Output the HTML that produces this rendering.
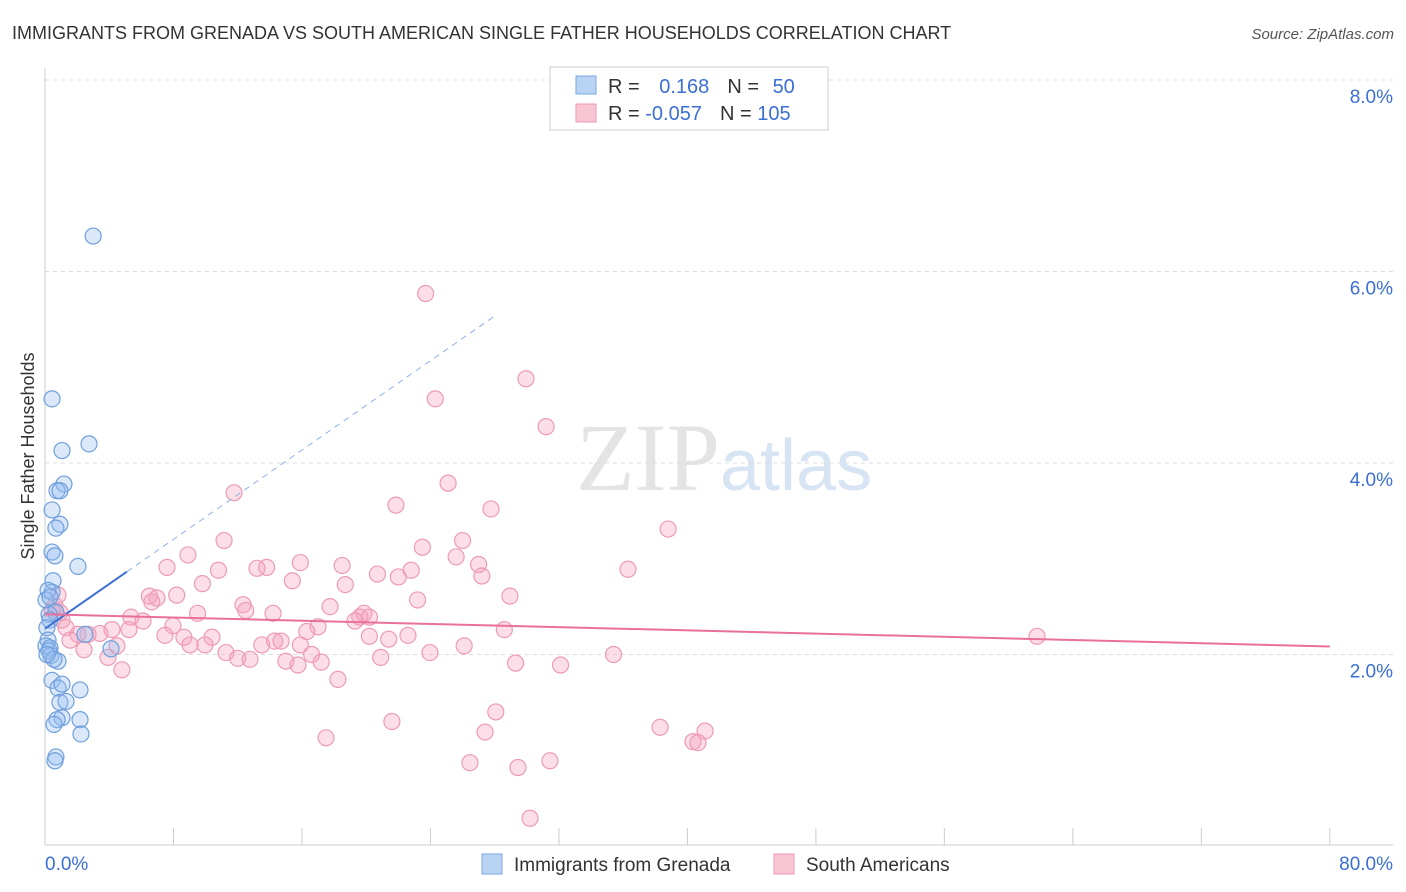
<!DOCTYPE html>
<html><head><meta charset="utf-8"><style>
body{margin:0;background:#fff;font-family:"Liberation Sans",sans-serif}
svg{display:block}
</style></head><body>
<svg id="c" width="1406" height="892">
<text x="12" y="39" font-size="18" fill="#333">IMMIGRANTS FROM GRENADA VS SOUTH AMERICAN SINGLE FATHER HOUSEHOLDS CORRELATION CHART</text>
<text x="1394" y="39" font-size="15" fill="#555" font-style="italic" text-anchor="end">Source: ZipAtlas.com</text>
<text x="720" y="490" font-size="96" fill="#e4e4e4" text-anchor="end" font-family="Liberation Serif">ZIP</text>
<text x="720" y="490" font-size="72" fill="#d6e4f4">atlas</text>
<text transform="translate(34,456) rotate(-90)" font-size="18" fill="#333" text-anchor="middle">Single Father Households</text>
<g id="grid"></g><g id="pts"></g><g id="lines"></g>
<g>
<rect x="550" y="67" width="278" height="63" fill="#fff" stroke="#ccc"/>
<rect x="576" y="76" width="20" height="18" fill="#b9d3f3" stroke="#7aa6dd"/>
<rect x="576" y="104" width="20" height="18" fill="#f8c5d5" stroke="#ee99b4"/>
<text x="608" y="93" font-size="20" fill="#333">R = <tspan fill="#3b6fd4" dx="14">0.168</tspan><tspan fill="#333" dx="18">N = </tspan><tspan fill="#3b6fd4" dx="8">50</tspan></text>
<text x="608" y="120" font-size="20" fill="#333">R = <tspan fill="#3b6fd4">-0.057</tspan><tspan fill="#333" dx="18">N = </tspan><tspan fill="#3b6fd4">105</tspan></text>
</g>
<g>
<rect x="482" y="854" width="20" height="20" fill="#b9d3f3" stroke="#7aa6dd"/>
<text x="514" y="871" font-size="19" fill="#333">Immigrants from Grenada</text>
<rect x="774" y="854" width="20" height="20" fill="#f8c5d5" stroke="#ee99b4"/>
<text x="806" y="871" font-size="19" fill="#333">South Americans</text>
</g>
</svg>
<script>
const yTicks=[2,4,6,8];
const xTickLabels=["0.0%","80.0%"];
const blueX=[3.0,0.44,2.74,1.06,1.18,0.75,0.93,0.44,0.93,0.68,0.44,0.62,2.05,0.5,0.44,0.19,0.68,0.25,0.31,0.12,0.19,0.06,0.31,0.37,4.11,0.25,0.81,0.56,0.44,0.81,1.06,2.18,0.93,1.31,2.18,1.06,0.75,0.56,2.24,0.68,0.62,0.12,0.06,0.31,2.49];
const blueY=[6.37,4.67,4.2,4.13,3.78,3.71,3.71,3.51,3.36,3.32,3.07,3.03,2.92,2.77,2.65,2.67,2.44,2.42,2.36,2.28,2.15,2.09,2.07,1.99,2.06,2.04,1.93,1.95,1.73,1.65,1.69,1.63,1.5,1.51,1.32,1.34,1.32,1.27,1.17,0.93,0.89,2.0,2.57,2.6,2.21];
const pinkX=[23.7,29.95,24.3,31.2,11.77,25.1,21.85,27.77,38.8,11.15,26.0,23.5,8.9,25.6,15.9,18.5,13.8,13.2,7.6,36.3,27.0,22.8,20.7,22.0,27.2,15.4,10.8,18.7,9.8,8.2,6.5,6.97,6.65,28.95,23.2,12.33,17.75,12.5,19.86,5.35,19.6,9.5,14.2,6.1,20.2,19.3,17.0,7.97,4.17,3.42,16.3,28.6,5.23,22.6,20.2,10.4,8.65,2.68,2.05,7.47,21.4,14.3,14.7,13.5,9.03,9.96,4.48,15.9,26.1,23.97,2.43,11.27,16.6,3.92,20.9,35.4,12.0,12.77,15.0,17.2,29.3,32.1,15.75,4.79,18.24,61.77,21.6,28.07,38.3,41.1,17.5,27.4,40.35,40.66,26.46,29.45,31.44,30.2,0.93,1.06,0.62,0.81,1.31,1.56,0.44];
const pinkY=[5.77,4.88,4.67,4.38,3.69,3.79,3.56,3.52,3.31,3.19,3.19,3.12,3.04,3.02,2.96,2.93,2.91,2.9,2.91,2.89,2.94,2.88,2.84,2.81,2.82,2.77,2.88,2.73,2.74,2.62,2.61,2.59,2.55,2.61,2.57,2.52,2.5,2.46,2.43,2.39,2.39,2.43,2.43,2.35,2.39,2.35,2.29,2.3,2.26,2.22,2.24,2.26,2.26,2.2,2.19,2.18,2.18,2.21,2.21,2.2,2.16,2.14,2.14,2.1,2.1,2.1,2.09,2.1,2.09,2.02,2.05,2.02,2.0,1.97,1.97,2.0,1.96,1.95,1.93,1.92,1.91,1.89,1.89,1.84,1.74,2.19,1.3,1.4,1.24,1.2,1.13,1.19,1.09,1.08,0.87,0.82,0.89,0.29,2.44,2.36,2.51,2.62,2.28,2.15,2.46];
const blueTrend=[0.168,2.27,0.1166];  // r, intercept, slope per %x
const pinkTrend=[-0.057,2.42,-0.0042];
const ns="http://www.w3.org/2000/svg";
const xs=v=>45+v*16.06, ys=v=>846-v*95.75;
function mk(tag,at,parent){const e=document.createElementNS(ns,tag);for(const k in at)e.setAttribute(k,at[k]);document.getElementById(parent).appendChild(e);return e;}
yTicks.forEach(t=>{
 const l=mk('line',{x1:45,x2:1393,y1:ys(t),y2:ys(t),stroke:'#ddd','stroke-dasharray':'4,4'},'grid');
 
 
 const tx=mk('text',{x:1393,y:ys(t)+23,'font-size':19,fill:'#3b6fd4','text-anchor':'end'},'grid');tx.textContent=t.toFixed(1)+'%';
 
 
});
mk('line',{x1:45,x2:45,y1:68,y2:845,stroke:'#ccc'},'grid');
mk('line',{x1:45,x2:1393,y1:845,y2:845,stroke:'#ccc'},'grid');
for(let i=0;i<=10;i++){const x=xs(i*8);mk('line',{x1:x,x2:x,y1:828,y2:845,stroke:'#ccc'},'grid');}
const xl=mk('text',{x:45,y:870,'font-size':19,fill:'#3b6fd4'},'grid');xl.textContent=xTickLabels[0];


const xr=mk('text',{x:1393,y:870,'font-size':19,fill:'#3b6fd4','text-anchor':'end'},'grid');xr.textContent=xTickLabels[1];


pinkX.forEach((x,i)=>{const c=mk('circle',{cx:xs(x),cy:ys(pinkY[i]),r:8,fill:'rgba(244,160,188,0.35)',stroke:'#ee9ab5','stroke-width':1.2},'pts');
 
 });
blueX.forEach((x,i)=>{const c=mk('circle',{cx:xs(x),cy:ys(blueY[i]),r:8,fill:'rgba(150,190,240,0.35)',stroke:'#6f9fdc','stroke-width':1.2},'pts');
 
 });
const bf=v=>blueTrend[1]+blueTrend[2]*v, pf=v=>pinkTrend[1]+pinkTrend[2]*v;
const bl=mk('line',{x1:xs(0),y1:ys(bf(0)),x2:xs(5.1),y2:ys(bf(5.1)),stroke:'#3b6fd4','stroke-width':2},'lines');


const bd=mk('line',{x1:xs(5.1),y1:ys(bf(5.1)),x2:xs(27.9),y2:ys(bf(27.9)),stroke:'#8fb0e6','stroke-width':1,'stroke-dasharray':'6,5'},'lines');


const pl=mk('line',{x1:xs(0),y1:ys(pf(0)),x2:xs(80),y2:ys(pf(80)),stroke:'#e8709a','stroke-width':2},'lines');


</script>
</body></html>
